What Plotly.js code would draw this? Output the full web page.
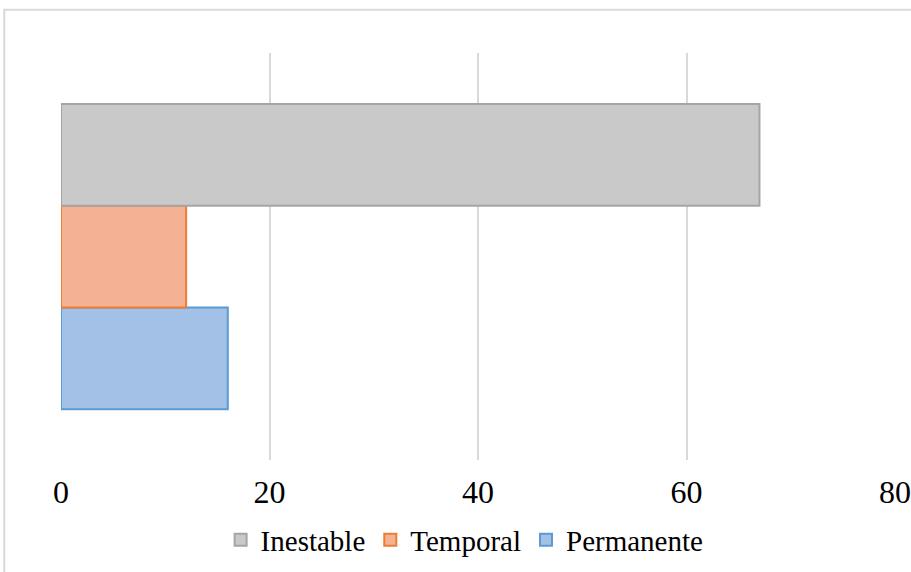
<!DOCTYPE html>
<html>
<head>
<meta charset="utf-8">
<script src="https://cdn.plot.ly/plotly-3.0.1.min.js"></script>
<style>html,body{margin:0;padding:0;background:#fff;}#chart{width:911px;height:572px;}</style>
</head>
<body>
<div id="chart"></div>
<script>
// Data
const category = ["Situación"];
const seriesNames = ["Inestable", "Temporal", "Permanente"];
const inestableValues = [67];
const temporalValues = [12];
const permanenteValues = [16];
const xTickValues = [0, 20, 40, 60, 80];
const xTickLabels = ["0", "20", "40", "60", "80"];

const fills = {Inestable: "#c9c9c9", Temporal: "#f4b194", Permanente: "#a3c1e6"};
const borders = {Inestable: "#a5a5a5", Temporal: "#ed7d31", Permanente: "#5b9bd5"};
const FONT = "'Liberation Serif', 'Times New Roman', Times, serif";

function mk(name, vals) {
  return {
    type: "bar", orientation: "h", name: name,
    x: vals, y: category,
    marker: {color: fills[name], line: {color: borders[name], width: 2}},
    hoverinfo: "x+name"
  };
}
// first trace is drawn lowest for horizontal grouped bars
const data = [
  mk("Permanente", permanenteValues),
  mk("Temporal", temporalValues),
  mk("Inestable", inestableValues)
];

const layout = {
  width: 911, height: 572,
  margin: {l: 61, r: 16, t: 53, b: 112},
  paper_bgcolor: "#fff", plot_bgcolor: "#fff",
  barmode: "group", bargap: 0.25, bargroupgap: 0,
  font: {family: FONT, size: 29, color: "#000"},
  xaxis: {
    range: [0, 80], tickvals: xTickValues, ticktext: xTickLabels,
    showgrid: true, gridcolor: "#d9d9d9", gridwidth: 2,
    zeroline: false, showline: false, ticks: "", ticklabelstandoff: 10,
    tickfont: {family: FONT, size: 32, color: "#000"}, automargin: false
  },
  yaxis: {showticklabels: false, showgrid: false, zeroline: false, showline: false, ticks: "", automargin: false},
  showlegend: true,
  legend: {
    orientation: "h", traceorder: "reversed",
    xref: "container", yref: "container",
    x: 0.51, xanchor: "center", y: 0.056, yanchor: "middle",
    font: {family: FONT, size: 29, color: "#000"}, itemwidth: 30
  },
  shapes: [{
    type: "rect", xref: "paper", yref: "paper",
    x0: -0.068, x1: 1.1, y0: -0.35, y1: 1.106,
    line: {color: "#d9d9d9", width: 2}, fillcolor: "rgba(0,0,0,0)", layer: "below"
  }]
};

Plotly.newPlot("chart", data, layout, {displayModeBar: false, staticPlot: true});
</script>
</body>
</html>
